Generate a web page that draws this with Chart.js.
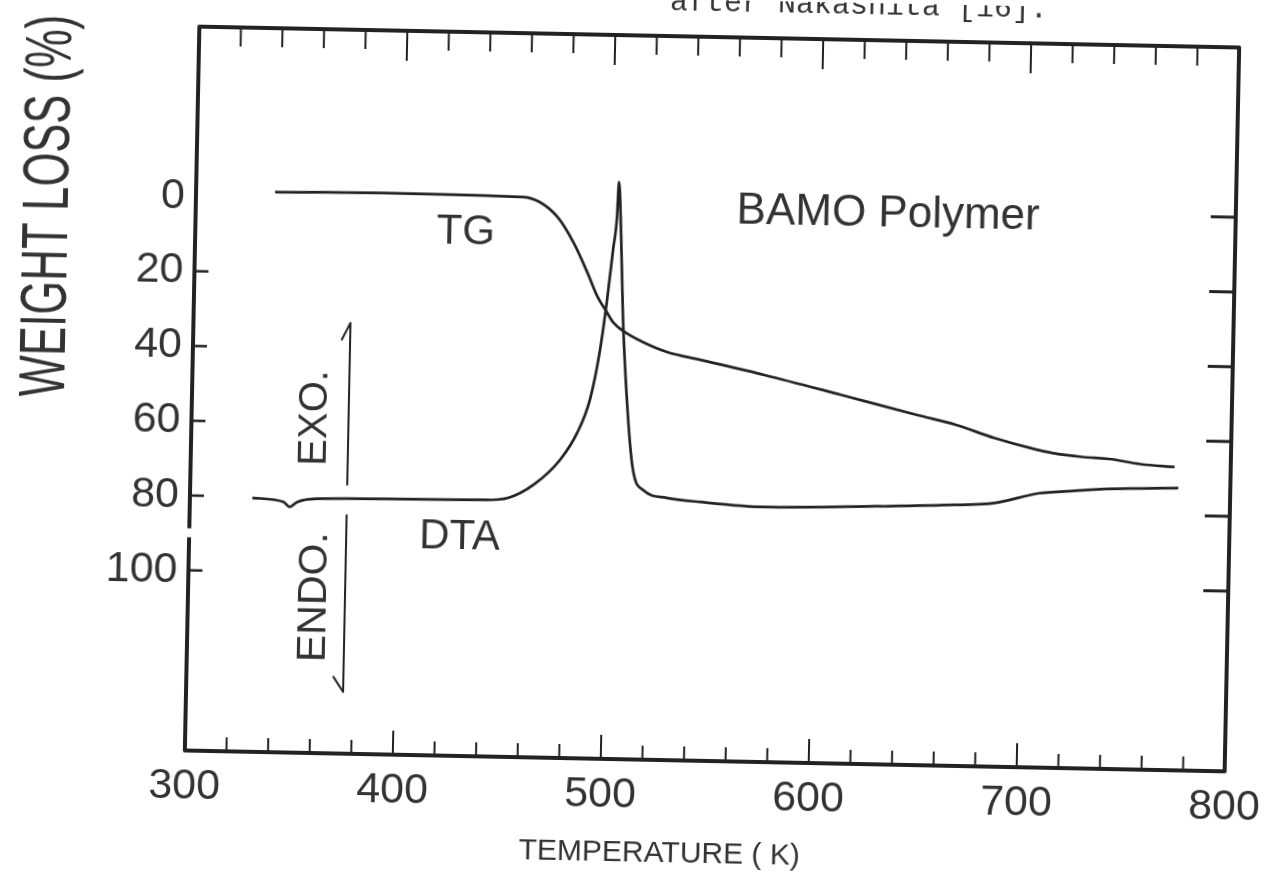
<!DOCTYPE html>
<html>
<head>
<meta charset="utf-8">
<title>BAMO Polymer TG / DTA</title>
<script src="https://cdn.jsdelivr.net/npm/chart.js@4.4.1/dist/chart.umd.min.js"></script>
<style>
  html, body { margin: 0; padding: 0; background: #fff; overflow: hidden; }
  /* the printed sheet sits slightly crooked */
  canvas { display: block; transform-origin: 712px 399px; transform: rotate(1.15deg); }
</style>
</head>
<body>
<canvas id="chart" width="1279" height="888"></canvas>
<script>
// temperature axis (K) and weight loss axis (%)
const xLabels = [300, 400, 500, 600, 700, 800];
const yLabels = [0, 20, 40, 60, 80, 100];
const leftTicks = [20, 40, 60, 80, 100];

// TG trace
const tgTemp = [338, 390, 457, 465, 474, 482, 489, 494, 498, 502, 507.5, 516, 528, 544, 575, 612, 649, 667.5, 686, 705, 714, 728.5, 741.5, 756.5, 773];
const tgLoss = [-1.6, -1.9, -1.6, -0.4, 3.6, 10.4, 18.4, 24.7, 28.2, 31.6, 34.0, 36.5, 39.1, 41.0, 44.7, 49.6, 54.6, 57.0, 60.3, 63.0, 64.0, 64.9, 65.3, 66.5, 67.1];

// DTA trace, plotted on the same frame
const dtaTemp = [330, 345, 348, 351.5, 361, 441, 452.5, 465, 477.5, 485.5, 491.3, 495.7, 498.6, 501, 502.6, 503.2, 504.7, 506.4, 509.8, 512.7, 517.7, 529.3, 545.2, 576.5, 630, 668.3, 686.6, 708.6, 723.5, 741.7, 775];
const dtaValue = [80.3, 81.2, 82.5, 81.2, 80.2, 79.6, 79.0, 75.3, 68.5, 61.2, 52.3, 38.9, 25.5, 12.1, 3.2, -6.1, 7.5, 29.9, 56.7, 70.8, 76.1, 78.1, 79.0, 80.0, 79.2, 78.4, 77.7, 74.8, 74.1, 73.3, 72.7];

const INK = '#222';
const LABEL_FONT = '"Liberation Sans", Arial, sans-serif';

function pts(xs, ys) {
  return xs.map((x, i) => ({ x: x, y: ys[i] }));
}

// frame, ticks, labels and notes drawn on top of the plot
const paperPlugin = {
  id: 'paper',
  afterDraw(chart) {
    const ctx = chart.ctx;
    const xs = chart.scales.x, ys = chart.scales.y;
    const a = chart.chartArea;
    const X = v => xs.getPixelForValue(v);
    const Y = v => ys.getPixelForValue(v);

    ctx.save();
    ctx.strokeStyle = INK;
    ctx.fillStyle = INK;
    ctx.lineJoin = 'round';

    // frame (left side has a small break just below 80)
    ctx.lineWidth = 4;
    ctx.beginPath();
    ctx.moveTo(a.left, Y(88.8));
    ctx.lineTo(a.left, a.top);
    ctx.lineTo(a.right, a.top);
    ctx.lineTo(a.right, a.bottom);
    ctx.lineTo(a.left, a.bottom);
    ctx.lineTo(a.left, Y(91.2));
    ctx.stroke();

    // top and bottom ticks, every 20 K
    ctx.lineWidth = 2;
    for (let t = 320; t < 800; t += 20) {
      const major = t % 100 === 0;
      const px = X(t);
      ctx.beginPath();
      ctx.moveTo(px, a.top);
      ctx.lineTo(px, a.top + (major ? 30 : 19));
      ctx.moveTo(px, a.bottom);
      ctx.lineTo(px, a.bottom - (major ? 24 : 14));
      ctx.stroke();
    }

    // right ticks
    ctx.lineWidth = 3;
    yLabels.forEach(v => {
      ctx.beginPath();
      ctx.moveTo(a.right, Y(v));
      ctx.lineTo(a.right - 25, Y(v));
      ctx.stroke();
    });
    // left ticks
    ctx.lineWidth = 2.5;
    leftTicks.forEach(v => {
      ctx.beginPath();
      ctx.moveTo(a.left, Y(v));
      ctx.lineTo(a.left + 14, Y(v));
      ctx.stroke();
    });

    // tick labels
    ctx.fillStyle = '#333';
    ctx.font = '43px ' + LABEL_FONT;
    ctx.textAlign = 'center';
    ctx.textBaseline = 'middle';
    xLabels.forEach(v => ctx.fillText(String(v), X(v), a.bottom + 36));
    ctx.textAlign = 'right';
    yLabels.forEach(v => ctx.fillText(String(v), a.left - 11, Y(v)));

    // axis titles
    ctx.save();
    ctx.translate(64, Y(3.3));
    ctx.rotate(-Math.PI / 2);
    ctx.scale(0.68, 1);
    ctx.textAlign = 'center';
    ctx.textBaseline = 'alphabetic';
    ctx.font = '64px ' + LABEL_FONT;
    ctx.fillText('WEIGHT LOSS (%)', 0, 0);
    ctx.restore();

    ctx.textAlign = 'center';
    ctx.textBaseline = 'alphabetic';
    ctx.font = '30px ' + LABEL_FONT;
    ctx.fillText('TEMPERATURE ( K)', X(529), a.bottom + 102);

    // caption line cut off at the top of the sheet
    ctx.textAlign = 'right';
    ctx.font = '30px "Liberation Mono", "DejaVu Sans Mono", monospace';
    ctx.fillText('after Nakashita [16].', 1040, 11);

    // curve names and sample title
    ctx.textBaseline = 'middle';
    ctx.textAlign = 'left';
    ctx.font = '44px ' + LABEL_FONT;
    ctx.fillText('BAMO Polymer', X(560), Y(1));
    ctx.textAlign = 'center';
    ctx.font = '42px ' + LABEL_FONT;
    ctx.fillText('TG', X(430), Y(8.3));
    ctx.fillText('DTA', X(430), Y(89.7));

    // EXO / ENDO direction marks
    ctx.save();
    ctx.translate(X(359.8), Y(58.6));
    ctx.rotate(-Math.PI / 2);
    ctx.font = '40px ' + LABEL_FONT;
    ctx.fillText('EXO.', 0, 0);
    ctx.restore();
    ctx.save();
    ctx.translate(X(361), Y(106.5));
    ctx.rotate(-Math.PI / 2);
    ctx.font = '41px ' + LABEL_FONT;
    ctx.fillText('ENDO.', 0, 0);
    ctx.restore();

    ctx.strokeStyle = INK;
    ctx.lineWidth = 2;
    ctx.lineCap = 'round';
    ctx.beginPath();
    ctx.moveTo(X(371.5), Y(37.5));
    ctx.lineTo(X(375.5), Y(33));
    ctx.lineTo(X(375.5), Y(76.3));
    ctx.stroke();
    ctx.beginPath();
    ctx.moveTo(X(375.5), Y(84.4));
    ctx.lineTo(X(375.5), Y(131.7));
    ctx.lineTo(X(370.7), Y(127.7));
    ctx.stroke();

    ctx.restore();
  }
};

new Chart(document.getElementById('chart'), {
  type: 'line',
  data: {
    datasets: [
      {
        label: 'TG',
        data: pts(tgTemp, tgLoss),
        borderColor: INK,
        borderWidth: 2.7,
        pointRadius: 0,
        cubicInterpolationMode: 'monotone',
        fill: false
      },
      {
        label: 'DTA',
        data: pts(dtaTemp, dtaValue),
        borderColor: INK,
        borderWidth: 2.7,
        pointRadius: 0,
        cubicInterpolationMode: 'monotone',
        fill: false
      }
    ]
  },
  options: {
    responsive: false,
    animation: false,
    layout: { padding: { left: 192, right: 47, top: 37, bottom: 127 } },
    plugins: {
      legend: { display: false },
      tooltip: { enabled: false }
    },
    scales: {
      x: { type: 'linear', min: 300, max: 800, display: false },
      y: { type: 'linear', min: -45.4, max: 148.2, reverse: true, display: false }
    }
  },
  plugins: [paperPlugin]
});
</script>
</body>
</html>
